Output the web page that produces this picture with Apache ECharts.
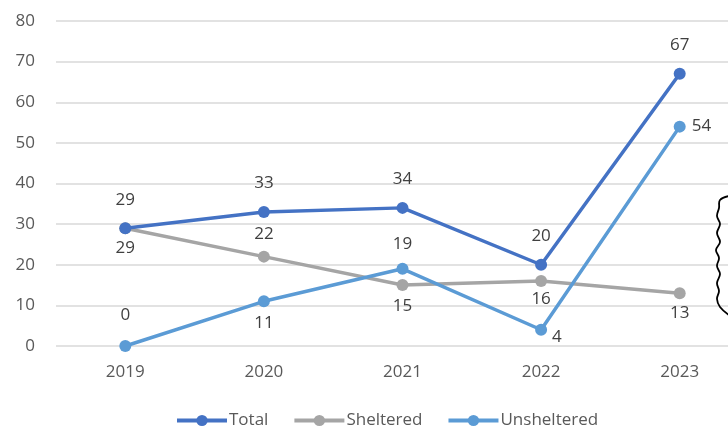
<!DOCTYPE html>
<html><head><meta charset="utf-8">
<script src="https://cdn.jsdelivr.net/npm/echarts@6/dist/echarts.min.js"></script>
<style>html,body{margin:0;padding:0;background:#fff}#c{width:728px;height:428px}</style>
</head><body><div id="c"></div>
<script>
const categories = ['2019','2020','2021','2022','2023'];
const total = [29, 33, 34, 20, 67];
const sheltered = [29, 22, 15, 16, 13];
const unsheltered = [0, 11, 19, 4, 54];
const yTicks = [0,10,20,30,40,50,60,70,80];

const font = 'Open Sans, Liberation Sans, sans-serif';
const lblBase = {show:true, fontSize:17, color:'#404040', fontFamily:font, distance:9};
function labels(arr, positions){
  return arr.map((v,i)=>({value:v, label:Object.assign({}, positions[i])}));
}
const chart = echarts.init(document.getElementById('c'));
chart.setOption({
  animation:false,
  textStyle:{fontFamily:font},
  grid:{left:56, right:-21, top:21, bottom:82, containLabel:false, outerBoundsMode:'none'},
  legend:{top:407, left:170, itemWidth:50, itemHeight:14, itemGap:24,
    lineStyle:{width:4},
    textStyle:{fontSize:17, color:'#595959', fontFamily:font, padding:[0,0,0,-3]},
    data:['Total','Sheltered','Unsheltered']},
  xAxis:{type:'category', data:categories, boundaryGap:true,
    axisLine:{show:false}, axisTick:{show:false},
    axisLabel:{fontSize:17, color:'#595959', margin:18}},
  yAxis:{type:'value', min:yTicks[0], max:yTicks[yTicks.length-1], interval:10,
    axisLine:{show:false}, axisTick:{show:false},
    axisLabel:{fontSize:17, color:'#595959', margin:21},
    splitLine:{lineStyle:{color:'#d9d9d9', width:1.5}}},
  series:[
    {name:'Total', type:'line', data:total, symbol:'circle', symbolSize:12,
     lineStyle:{width:3.5, color:'#4472C4'}, itemStyle:{color:'#4472C4'},
     label:Object.assign({}, lblBase, {position:'top', distance:14})},
    {name:'Sheltered', type:'line', data:labels(sheltered,[
        {position:'bottom', distance:5},{position:'top', distance:8},{position:'bottom', distance:7},
        {position:'bottom', distance:4},{position:'bottom', distance:5}]),
     symbol:'circle', symbolSize:12, z:1,
     lineStyle:{width:3.5, color:'#A5A5A5'}, itemStyle:{color:'#A5A5A5'},
     label:Object.assign({}, lblBase)},
    {name:'Unsheltered', type:'line', data:labels(unsheltered,[
        {position:'top', distance:16},{position:'bottom', distance:7},{position:'top', distance:10},
        {position:'right', distance:5, offset:[0,7]},{position:'right', distance:6}]),
     symbol:'circle', symbolSize:12,
     lineStyle:{width:3.5, color:'#5B9BD5'}, itemStyle:{color:'#5B9BD5'},
     label:Object.assign({}, lblBase)}
  ],
  graphic:[{type:'polyline', z:100, shape:{smooth:0.4, points:[
    [729,196],[720,200],[719,208],[717,216],[720,224],[717,233],[720,242],[716,250],
    [719,258],[717,266],[720,274],[717,283],[719,291],[717,299],[720,307],[729,315]]},
    style:{fill:null, stroke:'#000', lineWidth:1.8}}]
});
</script></body></html>
